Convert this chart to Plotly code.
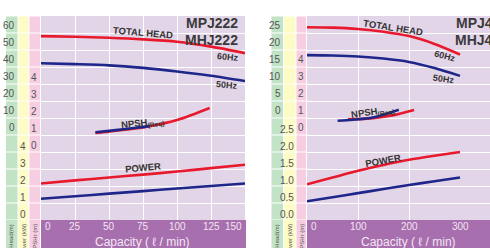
import plotly.graph_objects as go

W, H = 490, 248

# ---------------- data : left chart (MPJ222 / MHJ222) ----------------
capL = [0, 25, 50, 75, 100, 125, 150]
headL_60 = [57.0, 56.6, 56.0, 55.1, 53.7, 50.8, 47.0]
headL_50 = [41.0, 40.5, 39.8, 38.3, 36.2, 33.7, 30.6]
powL_60 = [2.15, 2.33, 2.50, 2.67, 2.85, 3.05, 3.25]
powL_50 = [1.25, 1.40, 1.55, 1.70, 1.85, 2.00, 2.15]
npshL_cap60 = [40, 50, 78, 100, 124]
npshL_60 = [1.06, 1.14, 1.43, 1.82, 2.53]
npshL_cap50 = [40, 55, 70, 80]
npshL_50 = [1.10, 1.23, 1.37, 1.48]

headL_ticks = [0, 10, 20, 30, 40, 50, 60]
powL_ticks = [0, 1, 2, 3, 4]
npshL_ticks = [0, 1, 2, 3, 4]
capL_ticks = [0, 25, 50, 75, 100, 125, 150]

# ---------------- data : right chart (MPJ4.. / MHJ4..) ----------------
capR = [0, 50, 100, 150, 200, 250, 300]
headR_60 = [26.1, 26.0, 25.6, 24.8, 23.5, 21.2, 18.1]
headR_50 = [17.9, 17.8, 17.5, 16.9, 15.9, 14.1, 11.8]
powR_60 = [1.05, 1.25, 1.45, 1.62, 1.77, 1.89, 2.00]
powR_50 = [0.55, 0.67, 0.79, 0.91, 1.03, 1.14, 1.25]
npshR_cap60 = [80, 125, 170, 210]
npshR_60 = [0.80, 0.86, 1.05, 1.35]
npshR_cap50 = [60, 90, 120, 150, 180]
npshR_50 = [0.72, 0.78, 0.87, 1.08, 1.37]

headR_ticks = [0, 5, 10, 15, 20, 25]
powR_ticks = ["0.0", "0.5", "1.0", "1.5", "2.0", "2.5"]
npshR_ticks = [0, 1, 2, 3, 4]
capR_ticks = [0, 100, 200, 300]

RED = "#e8192c"
BLUE = "#1e2689"
LAV = "#e3d5e8"
GREEN = "#c3e3c6"
YELLOW = "#fdfbc6"
PINK = "#f6cde1"
BAND = "#a86fae"
TXT = "#333333"
FONT = "Liberation Sans, Arial, sans-serif"
NARROW = "Liberation Sans Narrow, Liberation Sans, Arial, sans-serif"

def px(p):
    return p / W

def py(p):
    return 1 - p / H

TOP, BOT = 16, 220
ydom = [py(BOT), py(TOP)]

fig = go.Figure()

def line(x, y, color, xa, ya, shape="spline"):
    fig.add_trace(go.Scatter(x=x, y=y, mode="lines", xaxis=xa, yaxis=ya,
                             line=dict(color=color, width=2.6, shape=shape, smoothing=0.8),
                             hoverinfo="skip", showlegend=False))

# left traces  (y = power base, y2 = head, y3 = npsh)
line(capL, powL_50, BLUE, "x", "y")
line(capL, powL_60, RED, "x", "y")
line(capL, headL_50, BLUE, "x", "y2")
line(capL, headL_60, RED, "x", "y2")
line(npshL_cap60, npshL_60, RED, "x", "y3")
line(npshL_cap50, npshL_50, BLUE, "x", "y3")

# right traces (y4 = power base, y5 = head, y6 = npsh)
line(capR, powR_50, BLUE, "x2", "y4")
line(capR, powR_60, RED, "x2", "y4")
line(capR, headR_50, BLUE, "x2", "y5")
line(capR, headR_60, RED, "x2", "y5")
line(npshR_cap60, npshR_60, RED, "x2", "y6")
line(npshR_cap50, npshR_50, BLUE, "x2", "y6")

hidden = dict(showgrid=False, showticklabels=False, zeroline=False, ticks="", showline=False)

fig.update_layout(
    width=W, height=H, margin=dict(l=0, r=0, t=0, b=0),
    paper_bgcolor="white", plot_bgcolor=LAV, showlegend=False,
    xaxis=dict(domain=[px(41), px(245)], range=[0, 150], dtick=25, showgrid=True,
               gridcolor="white", gridwidth=1, showticklabels=False, zeroline=False,
               ticks="", anchor="y"),
    yaxis=dict(domain=ydom, range=[0, 12], dtick=1, showgrid=True, gridcolor="white",
               gridwidth=1, showticklabels=False, zeroline=False, ticks="", anchor="x"),
    yaxis2=dict(overlaying="y", anchor="x", range=[-(BOT - 133) / 1.7, (133 - TOP) / 1.7], **hidden),
    yaxis3=dict(overlaying="y", anchor="x", range=[-(BOT - 151) / 17, (151 - TOP) / 17], **hidden),
    xaxis2=dict(domain=[px(307), 1], range=[0, (490 - 307) / 0.51], tickvals=[0, 100, 200],
                showgrid=True, gridcolor="white", gridwidth=1, showticklabels=False,
                zeroline=False, ticks="", anchor="y4"),
    yaxis4=dict(domain=ydom, range=[0, 6], dtick=0.5, showgrid=True, gridcolor="white",
                gridwidth=1, showticklabels=False, zeroline=False, ticks="", anchor="x2"),
    yaxis5=dict(overlaying="y4", anchor="x2", range=[-(BOT - 116) / 3.4, (116 - TOP) / 3.4], **hidden),
    yaxis6=dict(overlaying="y4", anchor="x2", range=[-(BOT - 133) / 17, (133 - TOP) / 17], **hidden),
)

shapes = []
def rect(x0, x1, y0, y1, color):
    shapes.append(dict(type="rect", xref="paper", yref="paper", x0=px(x0), x1=px(x1),
                       y0=py(y1), y1=py(y0), fillcolor=color, line=dict(width=0), layer="below"))

# left columns
rect(6, 17.5, TOP, H, GREEN)
rect(18.5, 28.5, TOP, H, YELLOW)
rect(29.5, 40, TOP, H, PINK)
rect(41, 246, BOT, H, BAND)
# right columns
rect(271.5, 283, TOP, H, GREEN)
rect(284, 295.5, TOP, H, YELLOW)
rect(296.5, 306, TOP, H, PINK)
rect(307, 490, BOT, H, BAND)

for k in range(13):
    shapes.append(dict(type="line", xref="paper", yref="y", x0=px(6), x1=px(41), y0=k, y1=k,
                       line=dict(color="white", width=1), layer="below"))
    shapes.append(dict(type="line", xref="paper", yref="y4", x0=px(271.5), x1=px(307),
                       y0=k * 0.5, y1=k * 0.5, line=dict(color="white", width=1), layer="below"))
fig.update_layout(shapes=shapes)

ann = []
def tick(text, xr, yref, yval, color="#555555"):
    ann.append(dict(text=str(text), x=px(xr), xref="paper", y=yval, yref=yref,
                    xanchor="right", yanchor="bottom", showarrow=False, yshift=-2,
                    font=dict(family=NARROW, size=10, color=color)))

for v in headL_ticks:
    tick(v, 17, "y2", v)
for v in powL_ticks:
    tick(v, 28, "y", v)
for v in npshL_ticks:
    tick(v, 39, "y3", v)
for v in headR_ticks:
    tick(v, 283, "y5", v)
for v in powR_ticks:
    tick(v, 295.5, "y4", float(v))
for v in npshR_ticks:
    tick(v, 306, "y6", v)

def xtick(v, xref, first, last):
    anchor = "left" if first else ("right" if last else "center")
    shift = 2 if first else (-1 if last else 0)
    ann.append(dict(text=str(v), x=v, xref=xref, y=py(BOT), yref="paper", xanchor=anchor,
                    yanchor="top", showarrow=False, xshift=shift, yshift=1,
                    font=dict(family=FONT, size=10, color="#f2e4f2")))

for i, v in enumerate(capL_ticks):
    xtick(v, "x", i == 0, i == len(capL_ticks) - 1)
for i, v in enumerate(capR_ticks):
    xtick(v, "x2", i == 0, False)

def label(text, x, y, size, angle=0, color=TXT, bold=True, xanchor="center", family=FONT):
    t = f"<b>{text}</b>" if bold else text
    ann.append(dict(text=t, x=px(x), y=py(y), xref="paper", yref="paper", xanchor=xanchor,
                    yanchor="middle", showarrow=False, textangle=angle,
                    font=dict(family=family, size=size, color=color)))

# axis titles
label("Capacity ( ℓ / min)", 142, 241.5, 12, color="#f3e6f3", bold=False)
label("Capacity ( ℓ / min)", 408, 241.5, 12, color="#f3e6f3", bold=False)

# curve labels left
label("TOTAL HEAD", 142.5, 32, 9.5, 5)
label("MPJ222", 240, 23, 14, xanchor="right", color="#3a3a3a")
label("MHJ222", 240, 40, 14, xanchor="right", color="#3a3a3a")
label("60Hz", 227.5, 57.5, 9, 5)
label("50Hz", 227, 84.5, 9, 5)
label("NPSH<sub>(Req)</sub>", 142, 123, 9.5, -6)
label("POWER", 143, 167, 9.5, -5)

# curve labels right
label("TOTAL HEAD", 393, 27.5, 9.5, 9)
label("MPJ4", 454, 23, 14, xanchor="left", color="#3a3a3a")
label("MHJ4", 453, 40, 14, xanchor="left", color="#3a3a3a")
label("60Hz", 444.5, 56.5, 9, 15)
label("50Hz", 443.5, 78.5, 9, 8)
label("NPSH<sub>(Req)</sub>", 372, 112, 9.5, -8)
label("POWER", 383, 160, 9.5, -10)

# rotated column titles
def coltitle(text, x):
    ann.append(dict(text=text, x=px(x), y=py(222), xref="paper", yref="paper",
                    xanchor="center", yanchor="top", showarrow=False, textangle=-90,
                    font=dict(family=NARROW, size=6, color="#555555")))

for t, x in [("Total Head(m)", 11), ("Power (kW)", 23.5), ("NPSHr (m)", 34.5),
             ("Total Head(m)", 277), ("Power (kW)", 289.5), ("NPSHr (m)", 301.5)]:
    coltitle(t, x)

fig.update_layout(annotations=ann)
fig.write_html("out.html", config={"displayModeBar": False},
               post_script="document.body.style.margin='0px';")
